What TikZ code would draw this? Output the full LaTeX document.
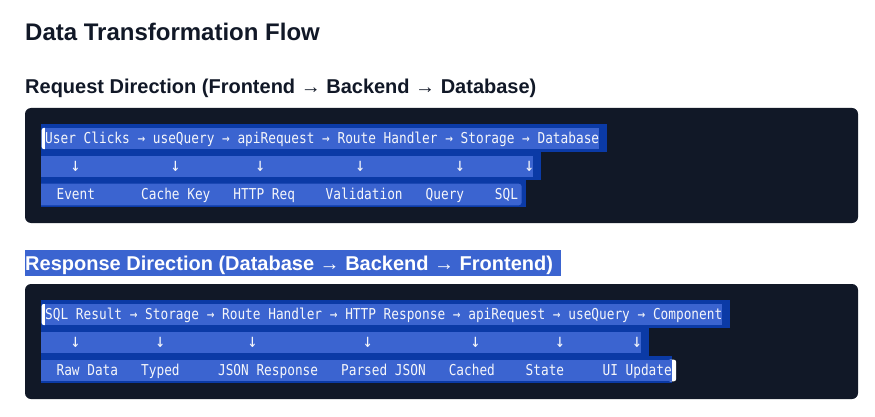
\documentclass[tikz,border=0pt]{standalone}
\usepackage{fontspec}
\setmainfont{Liberation Sans}
\newfontfamily\codefont[FakeStretch=0.852]{DejaVu Sans Mono}
\definecolor{codebg}{HTML}{111827}
\definecolor{seldark}{HTML}{0B3AA6}
\definecolor{sellight}{HTML}{3B64D0}
\definecolor{headtxt}{HTML}{111827}
\definecolor{codetxt}{HTML}{F5F6FA}
\tikzset{
  titletext/.style={anchor=base west, inner sep=0pt, text=headtxt, font=\bfseries\fontsize{24}{28}\selectfont},
  headtext/.style={anchor=base west, inner sep=0pt, text=headtxt, font=\bfseries\fontsize{20}{24}\selectfont},
  codetext/.style={anchor=base west, inner sep=0pt, text=codetxt, font=\codefont\fontsize{15}{18}\selectfont},
  downarrow/.style={anchor=center, inner sep=0pt, text=codetxt, font=\codefont\fontsize{19}{22}\selectfont},
  codebox/.style={fill=codebg, rounded corners=6pt},
  darksel/.style={fill=seldark},
  lightsel/.style={fill=sellight},
  caret/.style={fill=white, rounded corners=2pt}
}
\begin{document}
\begin{tikzpicture}[x=1pt,y=-1pt]
\useasboundingbox[fill=white] (0,0) rectangle (875,417);

% headings
\node[titletext] (title) at (25,40.5) {Data Transformation Flow};
\node[headtext] (reqhead) at (25,93.5) {Request Direction (Frontend → Backend → Database)};

% ---------- request block ----------
\path[codebox] (25,108) rectangle (858,223);
\fill[darksel] (41,124) rectangle (606.7,151.7);
\fill[darksel] (41,151.7) rectangle (541,179.7);
\fill[darksel] (41,179.7) rectangle (526,207.3);
\path[caret] (41.7,128) rectangle (47,149);
\fill[lightsel] (45,128) rectangle (598.7,149);
\fill[lightsel] (41,155.7) rectangle (532.7,177);
\fill[lightsel] (41,183.7) [rounded corners=3pt] -- (521.7,183.7) -- (521.7,205.3) [sharp corners] -- (41,205.3) -- cycle;

\node[codetext] (reqflow) at (45,143.7) {User Clicks → useQuery → apiRequest → Route Handler → Storage → Database};
\node[downarrow] (ra1) at ({41+4.5*7.69},166.2) {↓};
\node[downarrow] (ra2) at ({41+17.5*7.69},166.2) {↓};
\node[downarrow] (ra3) at ({41+28.5*7.69},166.2) {↓};
\node[downarrow] (ra4) at ({41+41.5*7.69},166.2) {↓};
\node[downarrow] (ra5) at ({41+54.5*7.69},166.2) {↓};
\node[downarrow] (ra6) at ({41+63.5*7.69},166.2) {↓};
\node[codetext] (rl1) at ({41+2*7.69},199.3) {Event};
\node[codetext] (rl2) at ({41+13*7.69},199.3) {Cache Key};
\node[codetext] (rl3) at ({41+25*7.69},199.3) {HTTP Req};
\node[codetext] (rl4) at ({41+37*7.69},199.3) {Validation};
\node[codetext] (rl5) at ({41+50*7.69},199.3) {Query};
\node[codetext] (rl6) at ({41+59*7.69},199.3) {SQL};

% ---------- response heading ----------
\fill[lightsel] (25,250) rectangle (561,276);
\node[headtext, text=white] (reshead) at (25,270.2) {Response Direction (Database → Backend → Frontend)};

% ---------- response block ----------
\path[codebox] (25,284) rectangle (858,399);
\fill[darksel] (41,300) rectangle (730,327.7);
\fill[darksel] (41,327.7) rectangle (648.7,355.7);
\fill[darksel] (41,355.7) rectangle (672,383.3);
\path[caret] (41.7,304) rectangle (47,325);
\path[caret] (668,359.7) rectangle (676,381.3);
\fill[lightsel] (45,304) rectangle (722,325);
\fill[lightsel] (41,331.7) rectangle (641,353);
\fill[lightsel] (41,359.7) rectangle (672,381.3);

\node[codetext] (resflow) at (45,319.7) {SQL Result → Storage → Route Handler → HTTP Response → apiRequest → useQuery → Component};
\node[downarrow] (sa1) at ({41+4.5*7.69},342.2) {↓};
\node[downarrow] (sa2) at ({41+15.5*7.69},342.2) {↓};
\node[downarrow] (sa3) at ({41+27.5*7.69},342.2) {↓};
\node[downarrow] (sa4) at ({41+42.5*7.69},342.2) {↓};
\node[downarrow] (sa5) at ({41+56.5*7.69},342.2) {↓};
\node[downarrow] (sa6) at ({41+67.5*7.69},342.2) {↓};
\node[downarrow] (sa7) at ({41+77.5*7.69},342.2) {↓};
\node[codetext] (sl1) at ({41+2*7.69},375.3) {Raw Data};
\node[codetext] (sl2) at ({41+13*7.69},375.3) {Typed};
\node[codetext] (sl3) at ({41+23*7.69},375.3) {JSON Response};
\node[codetext] (sl4) at ({41+39*7.69},375.3) {Parsed JSON};
\node[codetext] (sl5) at ({41+53*7.69},375.3) {Cached};
\node[codetext] (sl6) at ({41+63*7.69},375.3) {State};
\node[codetext] (sl7) at ({41+73*7.69},375.3) {UI Update};
\end{tikzpicture}
\end{document}
